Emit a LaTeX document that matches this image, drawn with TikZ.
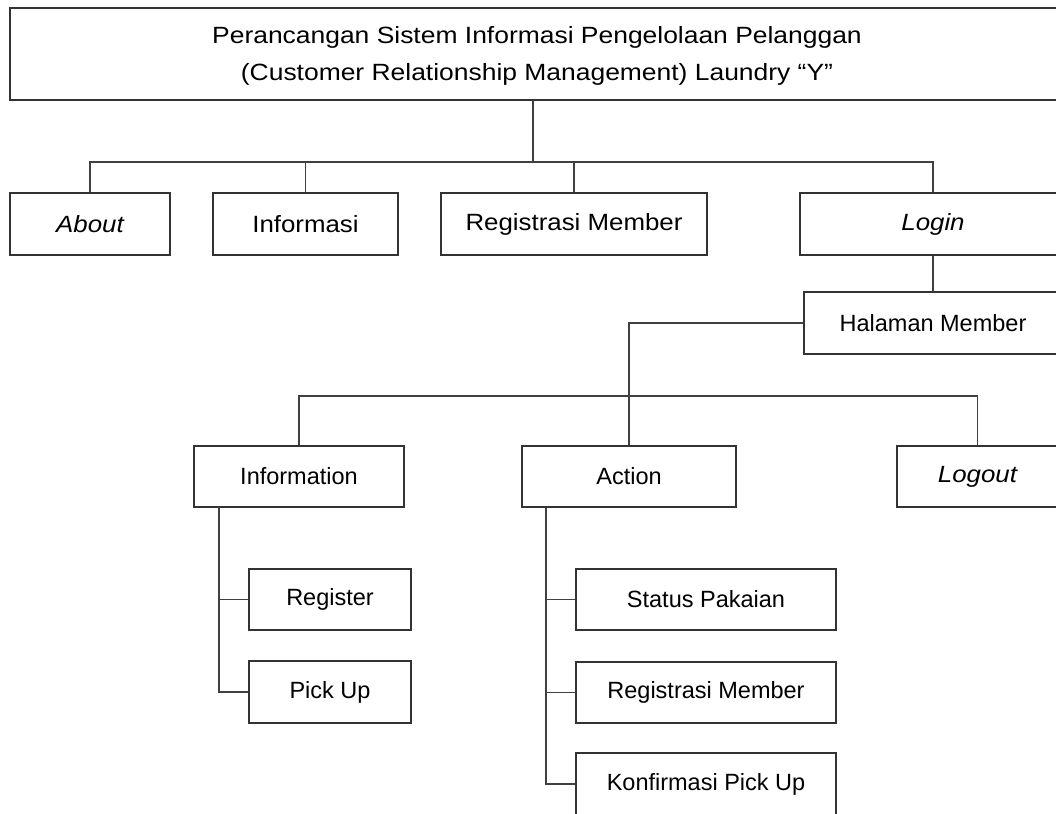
\documentclass[tikz,border=0pt]{standalone}
\usepackage{fontspec}
\setmainfont{Liberation Sans}
% labels of the upper levels are set slightly wider
\newcommand\widetext[1]{\scalebox{1.1}[1]{#1}}
\newcommand\titletext[1]{\scalebox{1.125}[1]{#1}}
\begin{document}
\begin{tikzpicture}[x=1pt,y=-1pt,
  box/.style={draw=black!80,line width=1.1pt,rectangle,inner sep=0pt,
    minimum height=62pt,align=center,
    font=\fontsize{23.5}{36}\selectfont},
  link/.style={draw=black!75,line width=1.1pt}]
\useasboundingbox (0,0) rectangle (1056,813);
\clip (0,0) rectangle (1056,813);

% root
\node[box,minimum width=1054pt,minimum height=92pt] (title) at (537,54)
  {};
\node[align=center,inner sep=0pt,font=\fontsize{23.5}{37}\selectfont] (titlelabel) at (537,56)
  {\titletext{Perancangan Sistem Informasi Pengelolaan Pelanggan}\\
   \titletext{(Customer Relationship Management) Laundry “Y”}};

% first level
\node[box,minimum width=160pt] (about) at (90,224) {\widetext{\itshape About}};
\node[box,minimum width=185pt] (info) at (305.5,224) {\widetext{Informasi}};
\node[box,minimum width=266pt] (regm) at (574,224) {\widetext{Registrasi Member}};
\node[box,minimum width=266pt] (login) at (933,224) {\widetext{\itshape Login}};

% member area
\node[box,minimum width=258pt] (halaman) at (933,323) {Halaman Member};

\node[box,minimum width=210pt,minimum height=61pt] (information) at (299,476.5) {Information};
\node[box,minimum width=214pt,minimum height=61pt] (action) at (629,476.5) {Action};
\node[box,minimum width=161pt,minimum height=61pt] (logout) at (977.5,476.5) {\widetext{\itshape Logout}};

\node[box,minimum width=162pt,minimum height=61pt] (register) at (330,599.5) {Register};
\node[box,minimum width=162pt] (pickup) at (330,692) {Pick Up};

\node[box,minimum width=260pt,minimum height=61pt] (status) at (706,599.5) {Status Pakaian};
\node[box,minimum width=260pt,minimum height=61pt] (regm2) at (706,692.5) {Registrasi Member};
\node[box,minimum width=260pt] (konf) at (706,784) {Konfirmasi Pick Up};

% connectors, top level
\coordinate (bus1) at (533,162);
\draw[link] (title.south -| bus1) -- (bus1);
\draw[link] (about.north) -- (about.north |- bus1) -- (login.north |- bus1) -- (login.north);
\draw[link] (info.north) -- (info.north |- bus1);
\draw[link] (regm.north) -- (regm.north |- bus1);

% connectors, member area
\draw[link] (login.south) -- (halaman.north);
\draw[link] (halaman.west) -| (action.north);
\coordinate (bus2) at (629,396);
\draw[link] (information.north) -- (information.north |- bus2) -- (logout.north |- bus2) -- (logout.north);

% information branch
\coordinate (ispine) at (219,507);
\draw[link] (ispine) |- (pickup.west);
\draw[link] (ispine |- register.west) -- (register.west);

% action branch
\coordinate (aspine) at (546,507);
\draw[link] (aspine) |- (konf.west);
\draw[link] (aspine |- status.west) -- (status.west);
\draw[link] (aspine |- regm2.west) -- (regm2.west);
\end{tikzpicture}
\end{document}
